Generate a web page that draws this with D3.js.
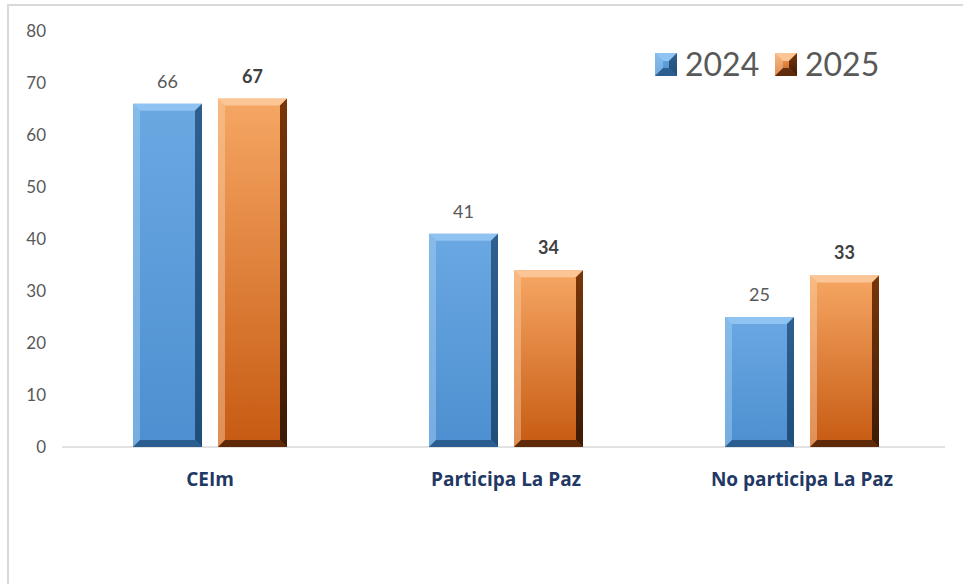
<!DOCTYPE html>
<html>
<head>
<meta charset="utf-8">
<script src="https://cdn.jsdelivr.net/npm/d3@7"></script>
<style>
  body { margin: 0; background: #fff; }
  svg { display: block; font-family: Lato, "Open Sans", sans-serif; }
</style>
</head>
<body>
<div id="chart"></div>
<script>
// data
var categories = ["CEIm", "Participa La Paz", "No participa La Paz"];
var seriesNames = ["2024", "2025"];
var values2024 = [66, 41, 25];
var values2025 = [67, 34, 33];
var yTicks = [0, 10, 20, 30, 40, 50, 60, 70, 80];

var width_all = 963, height_all = 584;
var margin = { top: 31, right: 13, bottom: 137, left: 62 };
var width = width_all - margin.left - margin.right,
    height = height_all - margin.top - margin.bottom;

var svg = d3.select("#chart")
    .append("svg")
    .attr("width", width_all)
    .attr("height", height_all);

// outer frame (only top and left edges visible)
svg.append("line").attr("x1", 8).attr("x2", 963).attr("y1", 5).attr("y2", 5)
    .attr("stroke", "#d9d9d9").attr("stroke-width", 2);
svg.append("line").attr("x1", 8).attr("x2", 8).attr("y1", 4).attr("y2", 584)
    .attr("stroke", "#d9d9d9").attr("stroke-width", 2);

var defs = svg.append("defs");
// gradients for bar bodies
var colors = {
    "2024": { top: "#8fc3f1", a: "#6aa8e2", b: "#4d8fd0", dark: "#1f4e79", side: "#2e5f8f", light: "#a9d2f5" },
    "2025": { top: "#fbc596", a: "#f6a764", b: "#c65a12", dark: "#3b1a05", side: "#7a3608", light: "#fdd0a8" }
};
seriesNames.forEach(function(s) {
    var g = defs.append("linearGradient").attr("id", "body" + s)
        .attr("x1", 0).attr("y1", 0).attr("x2", 0).attr("y2", 1);
    g.append("stop").attr("offset", "0%").attr("stop-color", colors[s].a);
    g.append("stop").attr("offset", "100%").attr("stop-color", colors[s].b);
    var r = defs.append("linearGradient").attr("id", "right" + s)
        .attr("x1", 0).attr("y1", 0).attr("x2", 0).attr("y2", 1);
    r.append("stop").attr("offset", "0%").attr("stop-color", colors[s].side);
    r.append("stop").attr("offset", "100%").attr("stop-color", colors[s].dark);
});

var x = d3.scaleBand()
    .domain(categories)
    .range([0, width]);

var xInner = d3.scaleBand()
    .domain(seriesNames)
    .range([x.bandwidth() / 2 - 77, x.bandwidth() / 2 + 77])
    .paddingInner(0.188);

var y = d3.scaleLinear()
    .domain([0, 80])
    .range([height, 0]);

var plot = svg.append("g")
    .attr("transform", "translate(" + margin.left + "," + margin.top + ")");

// y tick labels
plot.append("g")
    .selectAll("text")
    .data(yTicks)
    .enter()
    .append("text")
    .attr("x", -16)
    .attr("y", function(d) { return y(d); })
    .attr("dy", "0.35em")
    .attr("text-anchor", "end")
    .attr("font-size", "17px")
    .attr("fill", "#595959")
    .text(function(d) { return d; });

// baseline
plot.append("line")
    .attr("x1", 0).attr("x2", width - 5)
    .attr("y1", y(0)).attr("y2", y(0))
    .attr("stroke", "#d9d9d9").attr("stroke-width", 1.5);

// bevelled bar
function bevelRect(g, x0, y0, w, h, s, b) {
    var x1 = x0 + w, y1 = y0 + h;
    g.append("rect").attr("x", x0).attr("y", y0).attr("width", w).attr("height", h)
        .attr("fill", "url(#body" + s + ")");
    // top face
    g.append("polygon")
        .attr("points", [[x0, y0], [x1, y0], [x1 - b, y0 + b], [x0 + b, y0 + b]].join(" "))
        .attr("fill", colors[s].top);
    // left face
    g.append("polygon")
        .attr("points", [[x0, y0], [x0 + b, y0 + b], [x0 + b, y1 - b], [x0, y1]].join(" "))
        .attr("fill", colors[s].light).attr("opacity", 0.45);
    // right face
    g.append("polygon")
        .attr("points", [[x1, y0], [x1, y1], [x1 - b, y1 - b], [x1 - b, y0 + b]].join(" "))
        .attr("fill", "url(#right" + s + ")");
    // bottom face
    g.append("polygon")
        .attr("points", [[x0, y1], [x0 + b, y1 - b], [x1 - b, y1 - b], [x1, y1]].join(" "))
        .attr("fill", colors[s].dark).attr("opacity", 0.75);
}

var series = [
    { name: "2024", values: values2024, weight: "normal", color: "#595959" },
    { name: "2025", values: values2025, weight: "bold", color: "#404040" }
];

series.forEach(function(ser) {
    categories.forEach(function(c, i) {
        var v = ser.values[i];
        var bx = x(c) + xInner(ser.name);
        var bw = xInner.bandwidth();
        var g = plot.append("g");
        bevelRect(g, bx, y(v), bw, y(0) - y(v), ser.name, 7);
        plot.append("text")
            .attr("x", bx + bw / 2)
            .attr("y", y(v) - 16)
            .attr("text-anchor", "middle")
            .attr("font-size", "18px")
            .attr("font-weight", ser.weight)
            .attr("fill", ser.color)
            .text(v);
    });
});

// category labels
plot.append("g")
    .selectAll("text")
    .data(categories)
    .enter()
    .append("text")
    .attr("x", function(d) { return x(d) + x.bandwidth() / 2; })
    .attr("y", y(0) + 39)
    .attr("text-anchor", "middle")
    .attr("font-family", "'Open Sans', sans-serif")
    .attr("font-size", "19px")
    .attr("font-weight", "bold")
    .attr("fill", "#1f3864")
    .text(function(d) { return d; });

// legend
var legend = svg.append("g").attr("transform", "translate(655,53)");
var legendX = [0, 120];
series.forEach(function(ser, i) {
    var lg = legend.append("g").attr("transform", "translate(" + legendX[i] + ",0)");
    bevelRect(lg, 0, 0, 22, 23, ser.name, 8);
    lg.append("text")
        .attr("x", 30)
        .attr("y", 11.5)
        .attr("dy", "0.35em")
        .attr("font-size", "32px")
        .attr("fill", "#595959")
        .text(ser.name);
});
</script>
</body>
</html>
